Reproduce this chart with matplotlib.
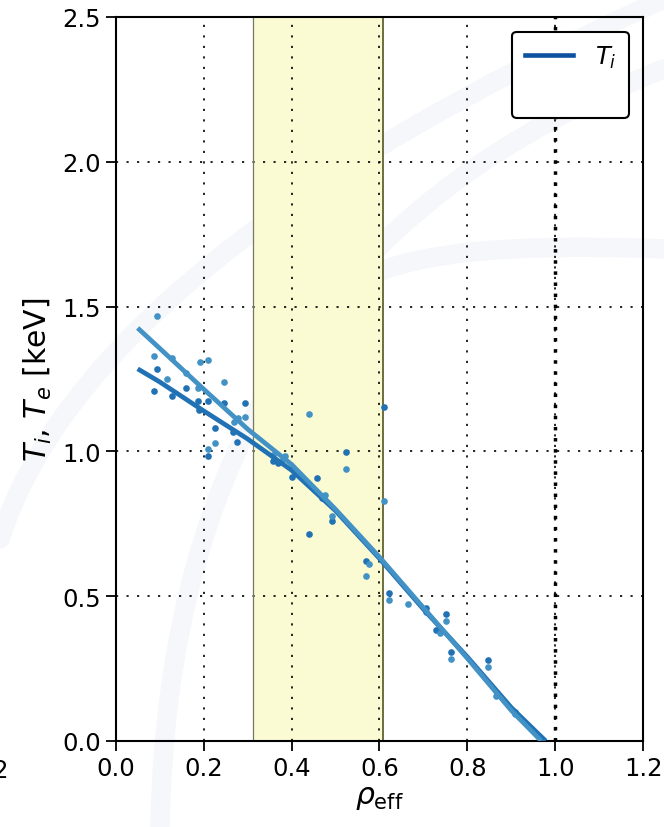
import numpy as np
import matplotlib
matplotlib.use("Agg")
import matplotlib.pyplot as plt
from matplotlib.path import Path
from matplotlib.patches import PathPatch
from matplotlib.lines import Line2D

# ---- data ----
rho_dark = [0.094, 0.087, 0.129, 0.159, 0.187, 0.190, 0.209, 0.246, 0.227, 0.211,
            0.295, 0.277, 0.267, 0.357, 0.370, 0.401, 0.439, 0.459, 0.470, 0.493,
            0.524, 0.569, 0.611, 0.622, 0.705, 0.728, 0.752, 0.762, 0.847, 0.868, 0.909]
Ti_dark = [1.283, 1.210, 1.192, 1.218, 1.175, 1.144, 1.175, 1.166, 1.081, 0.985,
           1.167, 1.034, 1.066, 0.968, 0.960, 0.910, 0.715, 0.907, 0.840, 0.759,
           0.997, 0.623, 1.152, 0.512, 0.458, 0.383, 0.440, 0.306, 0.280, 0.165, 0.100]

rho_light = [0.094, 0.088, 0.116, 0.129, 0.159, 0.191, 0.209, 0.187, 0.246, 0.227,
             0.211, 0.295, 0.278, 0.268, 0.380, 0.384, 0.358, 0.439, 0.477, 0.493,
             0.524, 0.576, 0.569, 0.610, 0.622, 0.666, 0.705, 0.738, 0.752, 0.762,
             0.847, 0.865, 0.909]
Ti_light = [1.466, 1.331, 1.250, 1.321, 1.271, 1.308, 1.315, 1.218, 1.241, 1.030,
            1.009, 1.120, 1.114, 1.100, 0.974, 0.983, 0.988, 1.129, 0.850, 0.776,
            0.940, 0.610, 0.570, 0.829, 0.486, 0.474, 0.446, 0.374, 0.413, 0.282,
            0.254, 0.155, 0.093]

fit_rho_dark = [0.05, 0.10, 0.20, 0.30, 0.40, 0.50, 0.60, 0.70, 0.80, 0.90, 0.978]
fit_Ti_dark = [1.285, 1.240, 1.140, 1.043, 0.935, 0.795, 0.630, 0.455, 0.290, 0.115, 0.0]
fit_rho_light = [0.05, 0.10, 0.20, 0.30, 0.40, 0.50, 0.60, 0.70, 0.80, 0.90, 0.968]
fit_Ti_light = [1.426, 1.356, 1.215, 1.077, 0.955, 0.800, 0.635, 0.460, 0.285, 0.105, 0.0]

span_lo, span_hi = 0.313, 0.607
lcfs = 1.0
xticks = [0.0, 0.2, 0.4, 0.6, 0.8, 1.0, 1.2]
yticks = [0.0, 0.5, 1.0, 1.5, 2.0, 2.5]

c_dark = '#2171b5'
c_light = '#4292c6'
c_leg = '#0d52a0'

plt.rcParams['font.family'] = ['DejaVu Sans']
plt.rcParams['mathtext.fontset'] = 'dejavusans'
FS = 17.5
FSL = 21.5

fig = plt.figure(figsize=(6.64, 8.28), dpi=100)

# faint watermark arcs in background
bg = fig.add_axes([0, 0, 1, 1], zorder=-10)
bg.set_xlim(0, 664); bg.set_ylim(828, 0); bg.axis('off')
wm = '#f6f7fa'
arcs = [
    [(0, 540), (90, 260), (664, 0)],
    [(160, 828), (170, 260), (664, 70)],
    [(356, 285), (420, 240), (664, 250)],
]
for a in arcs:
    p = Path(a, [Path.MOVETO, Path.CURVE3, Path.CURVE3])
    bg.add_patch(PathPatch(p, facecolor='none', edgecolor=wm, lw=14, capstyle='round'))

ax = fig.add_axes([0.1742, 0.1039, 0.7946, 0.8744])
ax.set_facecolor('none')

ax.axvspan(span_lo, span_hi, facecolor='#fbfbcf', edgecolor='none', zorder=0.5, alpha=0.9)
ax.axvline(span_lo, color='#777766', lw=0.9, zorder=0.6)
ax.axvline(span_hi, color='#555522', lw=1.2, zorder=0.6)

ax.grid(True, color='black', linewidth=1.2, dashes=(1.3, 5.0), zorder=1)
ax.set_axisbelow(True)
ax.axvline(lcfs, color='black', lw=2.5, dashes=(1.0, 2.2), zorder=2)

ax.scatter(rho_dark, Ti_dark, s=23, color=c_dark, zorder=3, linewidths=0)
ax.scatter(rho_light, Ti_light, s=23, color=c_light, zorder=3, linewidths=0)
ax.plot(fit_rho_dark, fit_Ti_dark, color=c_dark, lw=3.4, zorder=4, solid_capstyle='butt')
ax.plot(fit_rho_light, fit_Ti_light, color=c_light, lw=3.4, zorder=4, solid_capstyle='butt')

ax.set_xlim(0, 1.2)
ax.set_ylim(0, 2.5)
ax.set_xticks(xticks)
ax.set_yticks(yticks)
ax.set_xticklabels([f'{t:.1f}' for t in xticks])
ax.set_yticklabels([f'{t:.1f}' for t in yticks])
ax.tick_params(labelsize=FS, length=7, width=1.3, direction='out', color='black')
for s in ax.spines.values():
    s.set_linewidth(1.5)
    s.set_color('black')

ax.set_xlabel(r'$\rho_{\rm eff}$', fontsize=FSL, labelpad=2)
ax.set_ylabel(r'$T_i$, $T_e$ [keV]', fontsize=FSL, labelpad=6)

handles = [Line2D([], [], color=c_leg, lw=3.3),
           Line2D([], [], color='none', lw=3.3)]
leg = ax.legend(handles, [r'$T_i$', ' '], loc='upper right', fontsize=FS,
                fancybox=True, framealpha=1, edgecolor='black',
                borderaxespad=0.6, handlelength=2.0, borderpad=0.5,
                labelspacing=0.5, handletextpad=0.9)
leg.get_frame().set_linewidth(1.5)

# clipped neighbour label at left edge
fig.text(0.013, 1 - 771 / 828, '1.2', ha='right', va='center', fontsize=FS)

fig.savefig('out.png', dpi=100)
